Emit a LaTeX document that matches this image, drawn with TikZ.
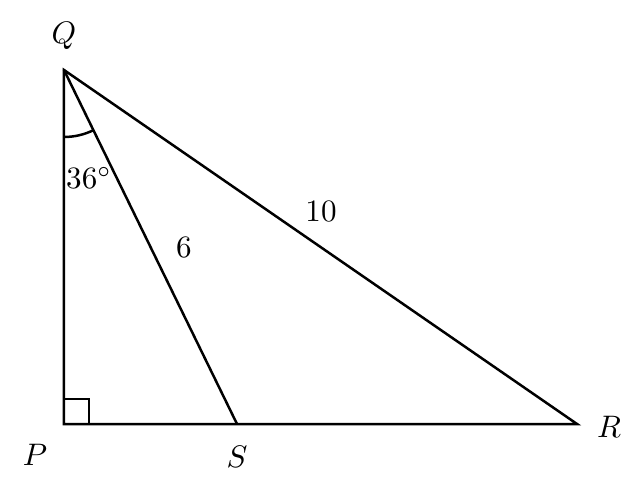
\documentclass[tikz,border=0pt]{standalone}
\usepackage{amssymb}
\usetikzlibrary{positioning}

\begin{document}
\begin{tikzpicture}[thick, vertex/.style={inner sep=1pt}, side/.style={inner sep=1pt}]
	\useasboundingbox (-0.723,-0.746) rectangle (6.542,4.791);
	\coordinate (P) at (0,0);
	\coordinate (Q) at (0,4);
	\coordinate (R) at (5.797,0);
	\coordinate (S) at (1.955,0);
	\node[vertex] (LQ) at (0,4.384) {$Q$};
	\node[vertex] (LP) at (-0.328,-0.35) {$P$};
	\node[vertex] (LS) at (1.955,-0.373) {$S$};
	\node[vertex] (LR) at (6.158,-0.034) {$R$};
	\draw (P) -- (Q) -- (R) -- cycle;
	\draw (Q) -- (S);
	\draw (P) rectangle ++(0.28,0.28);
	\draw ([shift={(-90:0.757)}]Q) arc[start angle=-90, end angle=-63.95, radius=0.757];
	\node[side] (ang) at (0.282,2.78) {$36^\circ$};
	\node[side] (qs) at (1.356,1.989) {$6$};
	\node[side] (qr) at (2.904,2.407) {$10$};
\end{tikzpicture}
\end{document}
